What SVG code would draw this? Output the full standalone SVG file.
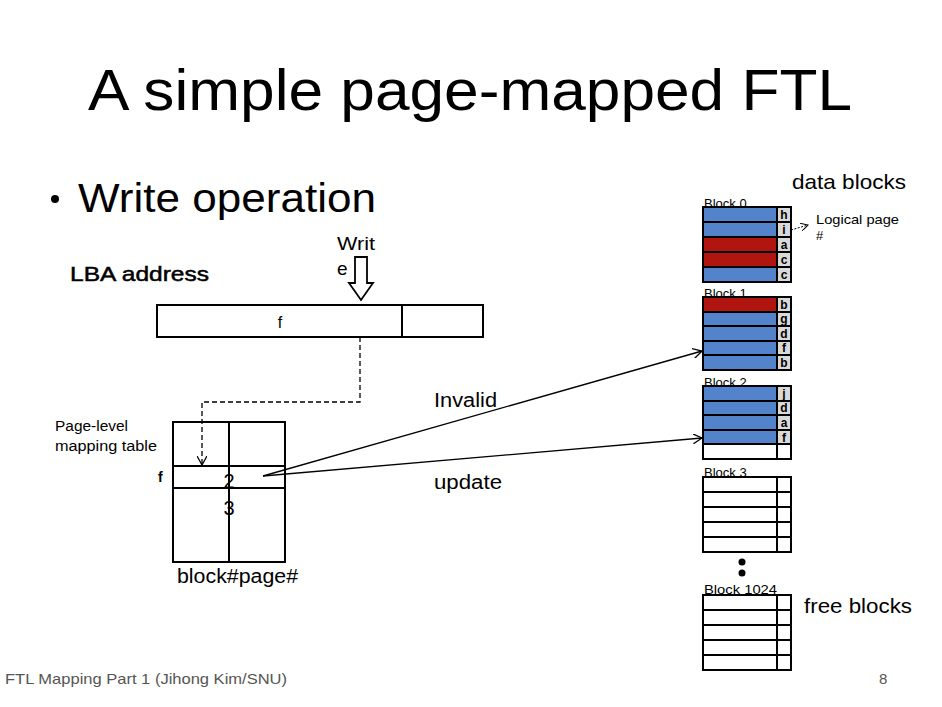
<svg xmlns="http://www.w3.org/2000/svg" width="942" height="707" viewBox="0 0 942 707">
  <style>
    text { font-family: "Liberation Sans", Arial, sans-serif; fill: #000; }
    .box { fill: #fff; stroke: #000; stroke-width: 2; }
    .pg { stroke: #000; stroke-width: 2; }
    .blue { fill: #5383CB; }
    .red { fill: #B0150F; }
    .tag { fill: #D9D9D9; }
    .free { fill: #fff; }
    .lbl { font-size: 12px; font-weight: bold; text-anchor: middle; }
    .blk { font-size: 13px; }
    .conn { fill: none; stroke: #000; stroke-width: 1.3; }
  </style>
  <defs>
    <marker id="open" viewBox="0 0 10 10" refX="9" refY="5" markerWidth="10" markerHeight="10" markerUnits="userSpaceOnUse" orient="auto">
      <path d="M0,0 L9,5 L0,10" fill="none" stroke="#000" stroke-width="1.3"/>
    </marker>
    <marker id="openSmall" viewBox="0 0 10 10" refX="9" refY="5" markerWidth="8" markerHeight="8" markerUnits="userSpaceOnUse" orient="auto">
      <path d="M0,0 L9,5 L0,10" fill="none" stroke="#000" stroke-width="1.3"/>
    </marker>
  </defs>

  <rect width="942" height="707" fill="#fff"/>

  <!-- headings -->
  <text x="88" y="110" font-size="58" textLength="764" lengthAdjust="spacingAndGlyphs">A simple page-mapped FTL</text>
  <circle cx="55" cy="199" r="4"/>
  <text x="78" y="212" font-size="40" textLength="298" lengthAdjust="spacingAndGlyphs">Write operation</text>

  <!-- LBA address bar -->
  <g id="lba">
    <text x="70" y="281" font-size="21" stroke="#000" stroke-width="0.5" textLength="139" lengthAdjust="spacingAndGlyphs">LBA address</text>
    <rect class="box" x="157" y="305" width="326" height="32"/>
    <line class="pg" x1="402" y1="305" x2="402" y2="337" stroke-width="3"/>
    <text x="280" y="328" font-size="16" text-anchor="middle">f</text>
  </g>

  <!-- write arrow -->
  <g id="write">
    <text x="337" y="250" font-size="19" textLength="38" lengthAdjust="spacingAndGlyphs">Writ</text>
    <text x="337" y="275" font-size="19">e</text>
    <path d="M355,257 H367 V283 H373 L361,300 L349,283 H355 Z" fill="#fff" stroke="#000" stroke-width="1.8"/>
  </g>

  <!-- mapping table -->
  <g id="table">
    <text x="55" y="431" font-size="14" textLength="73" lengthAdjust="spacingAndGlyphs">Page-level</text>
    <text x="55" y="451" font-size="14" textLength="102" lengthAdjust="spacingAndGlyphs">mapping table</text>
    <text x="158" y="482" font-size="14" font-weight="bold">f</text>
    <rect class="box" x="173" y="422" width="112" height="140"/>
    <line class="pg" x1="229" y1="422" x2="229" y2="562"/>
    <line class="pg" x1="173" y1="466" x2="285" y2="466"/>
    <line class="pg" x1="173" y1="488" x2="285" y2="488"/>
    <text x="229" y="488" font-size="20" text-anchor="middle">2</text>
    <text x="229" y="515" font-size="20" text-anchor="middle">3</text>
    <text x="177" y="583" font-size="20" textLength="121" lengthAdjust="spacingAndGlyphs">block#page#</text>
  </g>

  <!-- connectors -->
  <g id="connectors">
    <path class="conn" d="M360,337 V402 H202 V465" stroke-dasharray="5,3" marker-end="url(#open)"/>
    <line class="conn" x1="263" y1="476" x2="702" y2="351" marker-end="url(#open)"/>
    <line class="conn" x1="263" y1="476" x2="702" y2="438" marker-end="url(#open)"/>
    <path d="M791,230 L808,225" fill="none" stroke="#000" stroke-width="1" stroke-dasharray="2,1.5" marker-end="url(#openSmall)"/>
    <text x="434" y="407" font-size="20" textLength="63" lengthAdjust="spacingAndGlyphs">Invalid</text>
    <text x="434" y="489" font-size="20" textLength="68" lengthAdjust="spacingAndGlyphs">update</text>
  </g>

  <!-- data blocks -->
  <text x="792" y="189" font-size="21" textLength="114" lengthAdjust="spacingAndGlyphs">data blocks</text>
  <text x="816" y="224" font-size="13" textLength="83" lengthAdjust="spacingAndGlyphs">Logical page</text>
  <text x="816" y="240" font-size="13">#</text>

  <g id="block0">
    <text class="blk" x="704" y="208">Block 0</text>
    <rect class="blue pg" x="703" y="207" width="74" height="15"/>
    <rect class="blue pg" x="703" y="222" width="74" height="15"/>
    <rect class="red pg" x="703" y="237" width="74" height="15"/>
    <rect class="red pg" x="703" y="252" width="74" height="15"/>
    <rect class="blue pg" x="703" y="267" width="74" height="15"/>
    <rect class="tag pg" x="777" y="207" width="14" height="15"/>
    <rect class="tag pg" x="777" y="222" width="14" height="15"/>
    <rect class="tag pg" x="777" y="237" width="14" height="15"/>
    <rect class="tag pg" x="777" y="252" width="14" height="15"/>
    <rect class="tag pg" x="777" y="267" width="14" height="15"/>
    <text class="lbl" x="784" y="219">h</text>
    <text class="lbl" x="784" y="234">i</text>
    <text class="lbl" x="784" y="249">a</text>
    <text class="lbl" x="784" y="264">c</text>
    <text class="lbl" x="784" y="279">c</text>
  </g>

  <g id="block1">
    <text class="blk" x="704" y="298">Block 1</text>
    <rect class="red pg" x="703" y="297" width="74" height="15"/>
    <rect class="blue pg" x="703" y="312" width="74" height="14"/>
    <rect class="blue pg" x="703" y="326" width="74" height="15"/>
    <rect class="blue pg" x="703" y="341" width="74" height="14"/>
    <rect class="blue pg" x="703" y="355" width="74" height="15"/>
    <rect class="tag pg" x="777" y="297" width="14" height="15"/>
    <rect class="tag pg" x="777" y="312" width="14" height="14"/>
    <rect class="tag pg" x="777" y="326" width="14" height="15"/>
    <rect class="tag pg" x="777" y="341" width="14" height="14"/>
    <rect class="tag pg" x="777" y="355" width="14" height="15"/>
    <text class="lbl" x="784" y="309">b</text>
    <text class="lbl" x="784" y="323">g</text>
    <text class="lbl" x="784" y="338">d</text>
    <text class="lbl" x="784" y="352">f</text>
    <text class="lbl" x="784" y="367">b</text>
  </g>

  <g id="block2">
    <text class="blk" x="704" y="387">Block 2</text>
    <rect class="blue pg" x="703" y="386" width="74" height="15"/>
    <rect class="blue pg" x="703" y="401" width="74" height="14"/>
    <rect class="blue pg" x="703" y="415" width="74" height="15"/>
    <rect class="blue pg" x="703" y="430" width="74" height="14"/>
    <rect class="free pg" x="703" y="444" width="74" height="15"/>
    <rect class="tag pg" x="777" y="386" width="14" height="15"/>
    <rect class="tag pg" x="777" y="401" width="14" height="14"/>
    <rect class="tag pg" x="777" y="415" width="14" height="15"/>
    <rect class="tag pg" x="777" y="430" width="14" height="14"/>
    <rect class="free pg" x="777" y="444" width="14" height="15"/>
    <text class="lbl" x="784" y="398">j</text>
    <text class="lbl" x="784" y="412">d</text>
    <text class="lbl" x="784" y="427">a</text>
    <text class="lbl" x="784" y="442">f</text>
  </g>

  <g id="block3">
    <text class="blk" x="704" y="477">Block 3</text>
    <rect class="free pg" x="703" y="477" width="74" height="15"/>
    <rect class="free pg" x="703" y="492" width="74" height="15"/>
    <rect class="free pg" x="703" y="507" width="74" height="15"/>
    <rect class="free pg" x="703" y="522" width="74" height="15"/>
    <rect class="free pg" x="703" y="537" width="74" height="15"/>
    <rect class="free pg" x="777" y="477" width="14" height="75"/>
    <line class="pg" x1="777" y1="492" x2="791" y2="492"/>
    <line class="pg" x1="777" y1="507" x2="791" y2="507"/>
    <line class="pg" x1="777" y1="522" x2="791" y2="522"/>
    <line class="pg" x1="777" y1="537" x2="791" y2="537"/>
  </g>

  <circle cx="742" cy="562" r="3.5"/>
  <circle cx="742" cy="573" r="3.5"/>

  <g id="block1024">
    <text class="blk" x="704" y="594" textLength="73" lengthAdjust="spacingAndGlyphs">Block 1024</text>
    <rect class="free pg" x="703" y="595" width="74" height="15"/>
    <rect class="free pg" x="703" y="610" width="74" height="15"/>
    <rect class="free pg" x="703" y="625" width="74" height="15"/>
    <rect class="free pg" x="703" y="640" width="74" height="15"/>
    <rect class="free pg" x="703" y="655" width="74" height="15"/>
    <rect class="free pg" x="777" y="595" width="14" height="75"/>
    <line class="pg" x1="777" y1="610" x2="791" y2="610"/>
    <line class="pg" x1="777" y1="625" x2="791" y2="625"/>
    <line class="pg" x1="777" y1="640" x2="791" y2="640"/>
    <line class="pg" x1="777" y1="655" x2="791" y2="655"/>
  </g>
  <text x="804" y="613" font-size="21" textLength="108" lengthAdjust="spacingAndGlyphs">free blocks</text>

  <!-- footer -->
  <text x="5" y="684" font-size="15" style="fill:#555" textLength="282" lengthAdjust="spacingAndGlyphs">FTL Mapping Part 1 (Jihong Kim/SNU)</text>
  <text x="879" y="684" font-size="15" style="fill:#555">8</text>
</svg>
